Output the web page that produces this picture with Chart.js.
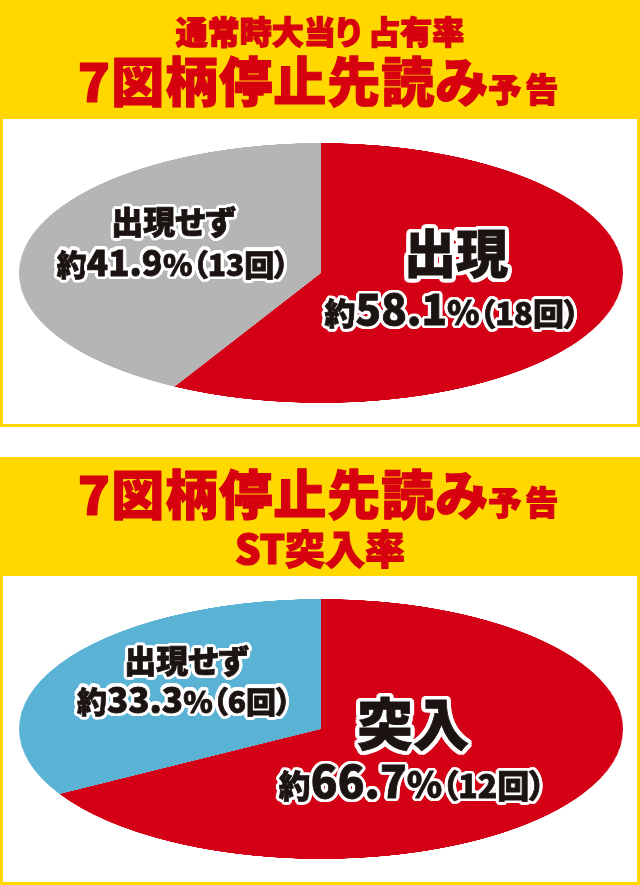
<!DOCTYPE html>
<html lang="ja">
<head>
<meta charset="utf-8">
<title>7図柄停止先読み予告</title>
<script src="https://cdn.jsdelivr.net/npm/chart.js@4.4.1/dist/chart.umd.min.js"></script>
<style>
    html, body { margin: 0; padding: 0; background: #fff; }
    body {
        width: 640px; height: 885px; position: relative; overflow: hidden;
        font-family: "Noto Sans CJK JP", "Noto Sans", sans-serif;
        font-feature-settings: "palt";
    }
    .panel { position: absolute; left: 0; width: 640px; background: #ffd800; }
    .inner { position: absolute; left: 3px; width: 634px; background: #fff; }
    .title {
        position: absolute; left: 0; width: 640px; text-align: center;
        color: #d7000f; font-weight: 900; white-space: nowrap; line-height: 1;
        -webkit-text-stroke: 1.2px #d7000f;
    }
    .pie { position: absolute; width: 260px; height: 260px; transform-origin: 50% 50%; }
    .lbl {
        position: absolute; transform: translate(-50%, -50%); white-space: nowrap;
        font-weight: 900; color: #1c1412; line-height: 1;
        -webkit-text-stroke: 0.8px #1c1412;
    }
</style>
</head>
<body>

<div class="panel" style="top:0;height:427px;">
    <div class="inner" style="top:119px;height:305px;"></div>
</div>
<div class="panel" style="top:457px;height:428px;">
    <div class="inner" style="top:119px;height:306px;"></div>
</div>

<div class="title" style="top:14px;font-size:32px;">通常時大当り 占有率</div>
<div class="title" style="top:53px;font-size:53px;letter-spacing:1px;">7図柄停止先読み<span style="font-size:33px;letter-spacing:4px;">予告</span></div>

<div class="title" style="top:466px;font-size:53px;letter-spacing:1px;">7図柄停止先読み<span style="font-size:33px;letter-spacing:4px;">予告</span></div>
<div class="title" style="top:527px;font-size:40px;">ST突入率</div>

<canvas id="pie1" class="pie" style="left:191px;top:143px;"></canvas>
<canvas id="pie2" class="pie" style="left:191px;top:599px;"></canvas>

<script>
// 通常時大当り 占有率
const panel1Categories = ['出現', '出現せず'];
const panel1Counts = [18, 13];

// ST突入率
const panel2Categories = ['突入', '出現せず'];
const panel2Counts = [12, 6];

const red = '#d30016';
const panel1Colors = [red, '#b5b5b6'];
const panel2Colors = [red, '#5ab3d5'];

// pie is drawn round, then stretched sideways into the oval
const stretchX = 302 / 130;

function makePie(id, labels, counts, colors) {
    const canvas = document.getElementById(id);
    canvas.style.transform = `scaleX(${stretchX})`;
    return new Chart(canvas, {
        type: 'pie',
        data: {
            labels: labels,
            datasets: [{
                data: counts,
                backgroundColor: colors,
                borderWidth: 0
            }]
        },
        options: {
            responsive: false,
            animation: false,
            devicePixelRatio: 3,
            events: [],
            layout: { padding: 0 },
            plugins: {
                legend: { display: false },
                tooltip: { enabled: false }
            }
        }
    });
}

function percent(counts, i) {
    const total = counts.reduce((a, b) => a + b, 0);
    return (counts[i] / total * 100).toFixed(1);
}

function outline(r) {
    const out = [];
    for (let a = 0; a < 360; a += 20) {
        const rad = a * Math.PI / 180;
        out.push(`${(r * Math.cos(rad)).toFixed(2)}px ${(r * Math.sin(rad)).toFixed(2)}px 0 #fff`);
    }
    return out.join(',');
}

function addText(html, x, y, size, stroke) {
    const div = document.createElement('div');
    div.className = 'lbl';
    div.style.left = x + 'px';
    div.style.top = y + 'px';
    div.style.fontSize = size + 'px';
    div.style.textShadow = outline(stroke);
    div.innerHTML = html;
    document.body.appendChild(div);
}

// spot: where the two lines of a slice label sit, and how big they are
function addLabel(categories, counts, i, spot) {
    addText(categories[i], spot.x, spot.y1, spot.name, spot.stroke);
    const line = `<span style="font-size:${spot.small}px">約</span>` +
        `<span style="font-size:${spot.num}px">${percent(counts, i)}</span>` +
        `<span style="font-size:${spot.pct}px">%</span>` +
        `<span style="font-size:${spot.small}px">（${counts[i]}回）</span>`;
    addText(line, spot.x2, spot.y2, spot.small, 3.5);
}

makePie('pie1', panel1Categories, panel1Counts, panel1Colors);
makePie('pie2', panel2Categories, panel2Counts, panel2Colors);

addLabel(panel1Categories, panel1Counts, 0,
    { x: 456, y1: 251, name: 52, stroke: 4.5, x2: 452, y2: 307, small: 31, num: 42, pct: 33 });
addLabel(panel1Categories, panel1Counts, 1,
    { x: 173, y1: 220, name: 32, stroke: 3.5, x2: 173, y2: 260, small: 30, num: 35, pct: 30 });
addLabel(panel2Categories, panel2Counts, 0,
    { x: 413, y1: 721, name: 56, stroke: 4.5, x2: 412, y2: 779, small: 32, num: 44, pct: 36 });
addLabel(panel2Categories, panel2Counts, 1,
    { x: 186, y1: 659, name: 32, stroke: 3.5, x2: 184, y2: 697, small: 30, num: 35, pct: 30 });
</script>
</body>
</html>
